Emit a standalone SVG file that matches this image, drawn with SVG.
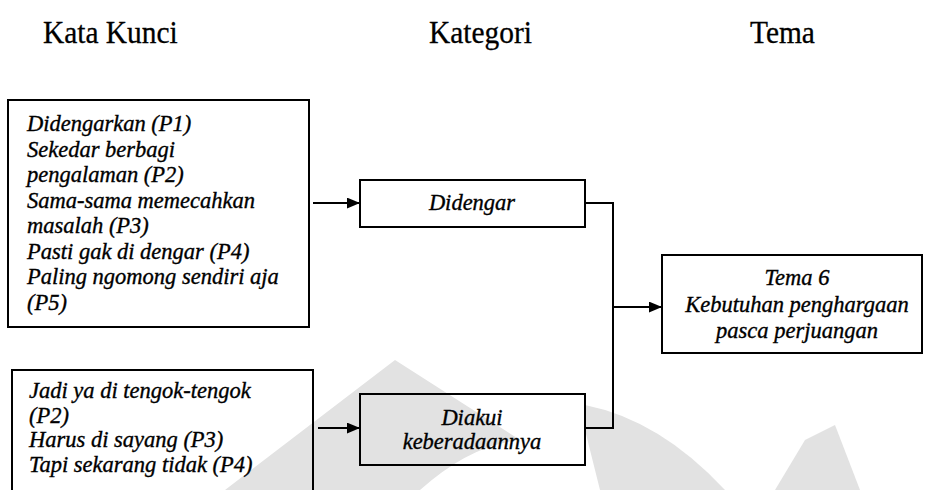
<svg xmlns="http://www.w3.org/2000/svg" width="930" height="490" viewBox="0 0 930 490">
  <style>
    .bg { fill: #ffffff; }
    .box { fill: none; stroke: #000; stroke-width: 2; }
    .wire { fill: none; stroke: #000; stroke-width: 2; }
    .mark { fill: #e2e2e2; }
  </style>
  <defs>
    <marker id="arrow" viewBox="0 0 12 10" refX="12" refY="5" markerWidth="13" markerHeight="11" markerUnits="userSpaceOnUse" orient="auto">
      <path d="M0,0 L12,5 L0,10 z" fill="#000"/>
    </marker>
  </defs>

  <rect class="bg" x="0" y="0" width="930" height="490"/>

  <!-- faint background emblem -->
  <g id="emblem">
    <path class="mark" d="M225,490 L395,360 L520,440 Q470,445 420,490 z"/>
    <path class="mark" d="M585,405 Q660,420 725,490 L600,490 Q590,450 585,430 z"/>
    <path class="mark" d="M775,490 L805,440 L835,425 L860,490 z"/>
  </g>

  <!-- column headings -->
  <g id="headings" font-family="Liberation Serif, Times New Roman, serif" font-size="32" fill="#000" stroke="#000" stroke-width="0.3">
    <text transform="scale(0.92 1)" x="46.7" y="43">Kata Kunci</text>
    <text transform="scale(0.92 1)" x="466.3" y="43">Kategori</text>
    <text transform="scale(0.92 1)" x="815.2" y="43">Tema</text>
  </g>

  <g id="kunci-1" font-family="Liberation Serif, Times New Roman, serif" font-size="22.5" font-style="italic" fill="#000" stroke="#000" stroke-width="0.35">
    <rect class="box" x="8" y="100" width="301" height="227"/>
    <text x="27" y="131">Didengarkan (P1)</text>
    <text x="27" y="156.5">Sekedar berbagi</text>
    <text x="27" y="182">pengalaman (P2)</text>
    <text x="27" y="207.5">Sama-sama memecahkan</text>
    <text x="27" y="233">masalah (P3)</text>
    <text x="27" y="258.5">Pasti gak di dengar (P4)</text>
    <text x="27" y="284">Paling ngomong sendiri aja</text>
    <text x="27" y="309.5">(P5)</text>
  </g>

  <g id="kunci-2" font-family="Liberation Serif, Times New Roman, serif" font-size="22.5" font-style="italic" fill="#000" stroke="#000" stroke-width="0.35">
    <rect class="box" x="12" y="370" width="301" height="130"/>
    <text x="29" y="398">Jadi ya di tengok-tengok</text>
    <text x="29" y="422.5">(P2)</text>
    <text x="29" y="447">Harus di sayang (P3)</text>
    <text x="29" y="471.5">Tapi sekarang tidak (P4)</text>
  </g>

  <g id="kategori-didengar" font-family="Liberation Serif, Times New Roman, serif" font-size="22.5" font-style="italic" fill="#000" stroke="#000" stroke-width="0.35" text-anchor="middle">
    <rect class="box" x="360" y="180" width="225" height="47"/>
    <text x="472" y="210">Didengar</text>
  </g>

  <g id="kategori-diakui" font-family="Liberation Serif, Times New Roman, serif" font-size="22.5" font-style="italic" fill="#000" stroke="#000" stroke-width="0.35" text-anchor="middle">
    <rect class="box" x="360" y="394" width="225" height="71"/>
    <text x="472" y="425">Diakui</text>
    <text x="472" y="449">keberadaannya</text>
  </g>

  <g id="tema-6" font-family="Liberation Serif, Times New Roman, serif" font-size="22.5" font-style="italic" fill="#000" stroke="#000" stroke-width="0.35" text-anchor="middle">
    <rect class="box" x="662" y="255" width="260" height="98"/>
    <text x="797" y="285">Tema 6</text>
    <text x="797" y="312">Kebutuhan penghargaan</text>
    <text x="797" y="338">pasca perjuangan</text>
  </g>

  <g id="connectors">
    <line class="wire" x1="313" y1="203" x2="360" y2="203" marker-end="url(#arrow)"/>
    <line class="wire" x1="318" y1="428" x2="360" y2="428" marker-end="url(#arrow)"/>
    <polyline class="wire" points="585,203 613,203 613,428 585,428"/>
    <line class="wire" x1="613" y1="307" x2="662" y2="307" marker-end="url(#arrow)"/>
  </g>
</svg>
